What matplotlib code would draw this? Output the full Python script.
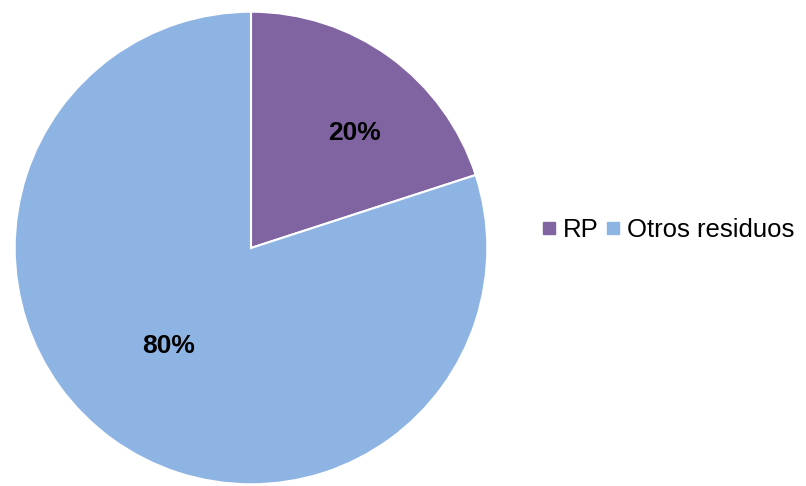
import numpy as np
import matplotlib.pyplot as plt
from matplotlib.lines import Line2D

plt.rcParams['font.family'] = ['Liberation Sans', 'DejaVu Sans']

labels = ['RP', 'Otros residuos']
sizes = [20, 80]
colors = ['#8064A2', '#8EB4E3']

# label placement: radius fraction and angular nudge (deg) from the wedge bisector
label_dist = [0.656, 0.54]
label_turn = [-6, -4]

fig = plt.figure(figsize=(8.06, 4.86), dpi=100)
ax = fig.add_axes([14 / 806, 1 / 486, 474 / 806, 474 / 486])

wedges, texts, autotexts = ax.pie(sizes, colors=colors, startangle=90, counterclock=False,
                                  autopct='%d%%', pctdistance=0.6,
                                  wedgeprops=dict(edgecolor='white', linewidth=1.5),
                                  textprops=dict(fontsize=19, fontweight='bold', color='black'))
for w, t, d, turn in zip(wedges, autotexts, label_dist, label_turn):
    ang = np.deg2rad((w.theta1 + w.theta2) / 2 + turn)
    t.set_position((d * np.cos(ang), d * np.sin(ang)))

ax.set_xlim(-1.003, 1.003)
ax.set_ylim(-1.003, 1.003)
ax.set_aspect('equal')

handles = [Line2D([], [], marker='s', linestyle='', markersize=8, color=c) for c in colors]
fig.legend(handles, labels, loc='center left', bbox_to_anchor=(533 / 806, 1 - 230 / 486),
           ncol=2, frameon=False, fontsize=18.5, handlelength=0.45, handletextpad=0.3,
           columnspacing=0.35, borderaxespad=0)

fig.savefig('out.png', dpi=100)
